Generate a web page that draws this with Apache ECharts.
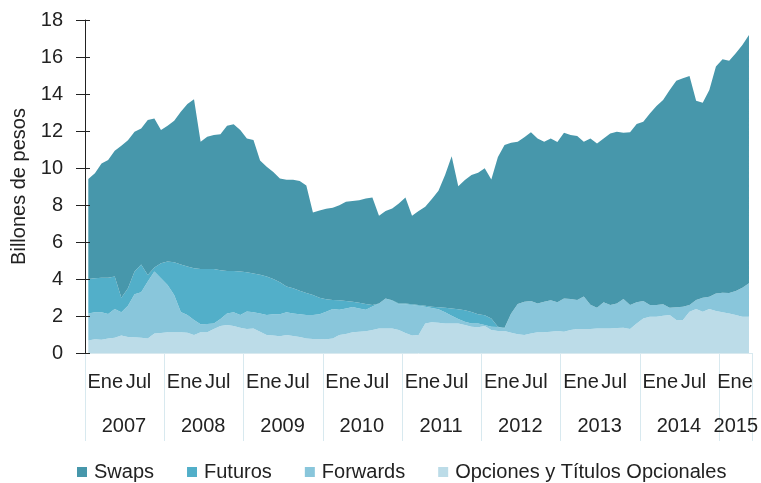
<!DOCTYPE html>
<html>
<head>
<meta charset="utf-8">
<script src="https://cdn.jsdelivr.net/npm/echarts@6/dist/echarts.min.js"></script>
<style>
  html, body { margin: 0; padding: 0; background: #fff; }
  #main { width: 761px; height: 483px; }
</style>
</head>
<body>
<div id="main"></div>
<script>
// monthly data, Jan 2007 - May 2015 (billones de pesos)
const years = ['2007', '2008', '2009', '2010', '2011', '2012', '2013', '2014', '2015'];
const monthNames = ['Ene', 'Feb', 'Mar', 'Abr', 'May', 'Jun', 'Jul', 'Ago', 'Sep', 'Oct', 'Nov', 'Dic'];
const lastYearMonths = 5;

const swaps = [
  5.40, 5.67, 6.18, 6.36, 6.80, 8.21, 8.00, 7.56, 7.35, 8.38, 8.06, 7.20,
  7.34, 7.65, 8.25, 8.79, 9.13, 6.88, 7.15, 7.24, 7.36, 7.85, 7.93, 7.65,
  7.24, 7.21, 6.17, 5.93, 5.79, 5.61, 5.77, 5.87, 5.93, 5.81, 4.46, 4.71,
  4.90, 4.99, 5.14, 5.36, 5.44, 5.54, 5.70, 5.81, 4.74, 4.72, 4.96, 5.41,
  5.74, 4.79, 5.08, 5.34, 5.82, 6.30, 7.17, 8.23, 6.66, 7.04, 7.40, 7.65,
  7.94, 7.51, 9.18, 9.87, 9.22, 8.77, 8.89, 9.12, 8.92, 8.65, 8.75, 8.66,
  8.95, 8.86, 8.87, 8.37, 8.99, 8.88, 8.86, 9.28, 9.28, 8.98, 9.34, 9.64,
  9.69, 10.36, 10.76, 11.04, 11.77, 12.25, 12.35, 12.38, 10.78, 10.54, 11.18, 12.27,
  12.62, 12.56, 12.85, 13.12, 13.42
];
const futuros = [
  1.86, 1.84, 1.87, 1.96, 1.75, 0.79, 0.94, 1.23, 1.51, 0.36, 0.22, 0.81,
  1.26, 1.76, 2.57, 2.62, 2.80, 2.99, 2.97, 2.94, 2.63, 2.29, 2.23, 2.35,
  2.12, 2.10, 2.10, 2.09, 1.91, 1.73, 1.40, 1.37, 1.28, 1.19, 1.09, 0.90,
  0.67, 0.48, 0.51, 0.40, 0.28, 0.31, 0.31, 0.08, 0.01, 0.00, 0.02, 0.04,
  0.04, 0.04, 0.03, 0.06, 0.07, 0.11, 0.25, 0.39, 0.52, 0.62, 0.62, 0.49,
  0.53, 0.45, 0.02, 0.04, 0.00, 0.00, 0.00, 0.00, 0.00, 0.00, 0.00, 0.00,
  0.00, 0.00, 0.00, 0.00, 0.00, 0.00, 0.00, 0.00, 0.00, 0.00, 0.00, 0.00,
  0.00, 0.00, 0.00, 0.00, 0.00, 0.00, 0.00, 0.00, 0.00, 0.00, 0.00, 0.00,
  0.00, 0.00, 0.00, 0.00, 0.00
];
const forwards = [
  1.47, 1.46, 1.48, 1.32, 1.55, 1.26, 1.70, 2.32, 2.45, 3.07, 3.34, 2.96,
  2.56, 2.02, 1.10, 0.95, 0.81, 0.43, 0.45, 0.30, 0.38, 0.63, 0.74, 0.68,
  0.94, 0.87, 0.98, 1.08, 1.15, 1.19, 1.23, 1.21, 1.23, 1.26, 1.29, 1.33,
  1.49, 1.59, 1.37, 1.38, 1.37, 1.26, 1.17, 1.28, 1.34, 1.62, 1.50, 1.39,
  1.55, 1.65, 1.59, 0.90, 0.77, 0.72, 0.60, 0.42, 0.24, 0.18, 0.18, 0.21,
  0.05, 0.18, 0.21, 0.14, 1.04, 1.64, 1.80, 1.75, 1.56, 1.65, 1.70, 1.55,
  1.80, 1.68, 1.56, 1.75, 1.31, 1.12, 1.41, 1.26, 1.33, 1.55, 1.29, 1.14,
  0.94, 0.63, 0.63, 0.61, 0.40, 0.69, 0.72, 0.36, 0.48, 0.76, 0.66, 0.94,
  1.06, 1.10, 1.30, 1.57, 1.81
];
const opciones = [
  0.67, 0.74, 0.72, 0.79, 0.83, 0.94, 0.86, 0.85, 0.83, 0.79, 1.06, 1.08,
  1.12, 1.12, 1.12, 1.10, 0.97, 1.12, 1.12, 1.30, 1.46, 1.51, 1.46, 1.37,
  1.30, 1.33, 1.15, 0.97, 0.94, 0.90, 0.97, 0.92, 0.86, 0.79, 0.76, 0.76,
  0.74, 0.79, 0.97, 1.03, 1.12, 1.15, 1.17, 1.24, 1.33, 1.33, 1.33, 1.24,
  1.08, 0.94, 0.97, 1.60, 1.66, 1.64, 1.60, 1.60, 1.60, 1.51, 1.42, 1.39,
  1.46, 1.24, 1.19, 1.19, 1.10, 1.01, 0.97, 1.06, 1.12, 1.12, 1.15, 1.19,
  1.15, 1.24, 1.30, 1.30, 1.30, 1.33, 1.33, 1.33, 1.35, 1.37, 1.30, 1.60,
  1.87, 1.96, 1.96, 2.02, 2.05, 1.78, 1.78, 2.23, 2.38, 2.23, 2.38, 2.27,
  2.20, 2.14, 2.05, 1.96, 1.96
];

const yTicks = { min: 0, max: 18, interval: 2 };

// categories "Ene 2007" ... "May 2015"
const categories = [];
years.forEach((y, k) => {
  const n = k === years.length - 1 ? lastYearMonths : 12;
  for (let m = 0; m < n; m++) categories.push(monthNames[m] + ' ' + y);
});
const lastJan = categories.length - lastYearMonths;

const font = '"Liberation Sans", Arial, sans-serif';
const fs = 20;
const txt = '#222';
const sepColor = '#d8e9ef';

const chart = echarts.init(document.getElementById('main'));

function areaSeries(name, data, color) {
  return {
    name: name,
    type: 'line',
    stack: 'total',
    data: data,
    symbol: 'none',
    lineStyle: { width: 0 },
    itemStyle: { color: color },
    areaStyle: { color: color, opacity: 1 },
    emphasis: { disabled: true }
  };
}

function richText(padLeft, padRight) {
  return { fontSize: fs, color: txt, fontFamily: font, padding: [0, padRight, 0, padLeft] };
}

chart.setOption({
  animation: false,
  textStyle: { fontFamily: font },
  grid: { left: 85, right: 7, top: 20, bottom: 130 },
  legend: {
    left: 72,
    top: 457,
    itemWidth: 10,
    itemHeight: 10,
    itemGap: 33,
    icon: 'rect',
    data: ['Swaps', 'Futuros', 'Forwards', 'Opciones y Títulos Opcionales'],
    textStyle: { fontFamily: font, fontSize: fs, color: txt, padding: [0, 0, 0, 2] }
  },
  xAxis: [
    {
      type: 'category',
      data: categories,
      boundaryGap: true,
      axisLine: { show: true, lineStyle: { color: sepColor } },
      axisTick: {
        show: true,
        interval: (i) => i % 12 === 0,
        length: 88,
        lineStyle: { color: sepColor }
      },
      axisLabel: {
        interval: 0,
        margin: 19,
        fontSize: fs,
        color: txt,
        fontFamily: font,
        formatter: (v, i) => {
          if (i === lastJan) return '{l|Ene}';
          if (i % 12 === 0) return '{e|Ene}';
          if (i % 12 === 6) return '{j|Jul}';
          return '';
        },
        rich: { e: richText(34, 0), j: richText(21, 0), l: richText(25, 0) }
      }
    },
    {
      type: 'category',
      data: categories,
      boundaryGap: true,
      position: 'bottom',
      axisLine: { show: false },
      axisTick: { show: false },
      axisLabel: {
        interval: 0,
        margin: 63,
        fontSize: fs,
        color: txt,
        fontFamily: font,
        formatter: (v, i) => {
          const y = v.split(' ')[1];
          if (i >= lastJan) return i === lastJan + 2 ? y : '';
          return i % 12 === 6 ? '{y|' + y + '}' : '';
        },
        rich: { y: richText(0, 8) }
      }
    }
  ],
  yAxis: [
    {
      type: 'value',
      min: yTicks.min,
      max: yTicks.max,
      interval: yTicks.interval,
      name: 'Billones de pesos',
      nameLocation: 'middle',
      nameGap: 54,
      nameRotate: 90,
      nameTextStyle: { fontSize: fs, color: txt, fontFamily: font },
      axisLine: { show: true, lineStyle: { color: '#222', width: 1 } },
      axisTick: { show: true, length: 9, lineStyle: { color: '#222' } },
      axisLabel: { fontSize: fs, color: txt, margin: 22, fontFamily: font },
      splitLine: { show: false }
    },
    {
      type: 'value',
      min: yTicks.min,
      max: yTicks.max,
      interval: yTicks.interval,
      position: 'left',
      z: 5,
      axisLine: { show: false },
      axisTick: { show: true, inside: true, length: 5, lineStyle: { color: '#222' } },
      axisLabel: { show: false },
      splitLine: { show: false }
    }
  ],
  series: [
    areaSeries('Opciones y Títulos Opcionales', opciones, '#bcdce8'),
    areaSeries('Forwards', forwards, '#89c6db'),
    areaSeries('Futuros', futuros, '#52afc9'),
    areaSeries('Swaps', swaps, '#4797ab')
  ]
});
</script>
</body>
</html>
